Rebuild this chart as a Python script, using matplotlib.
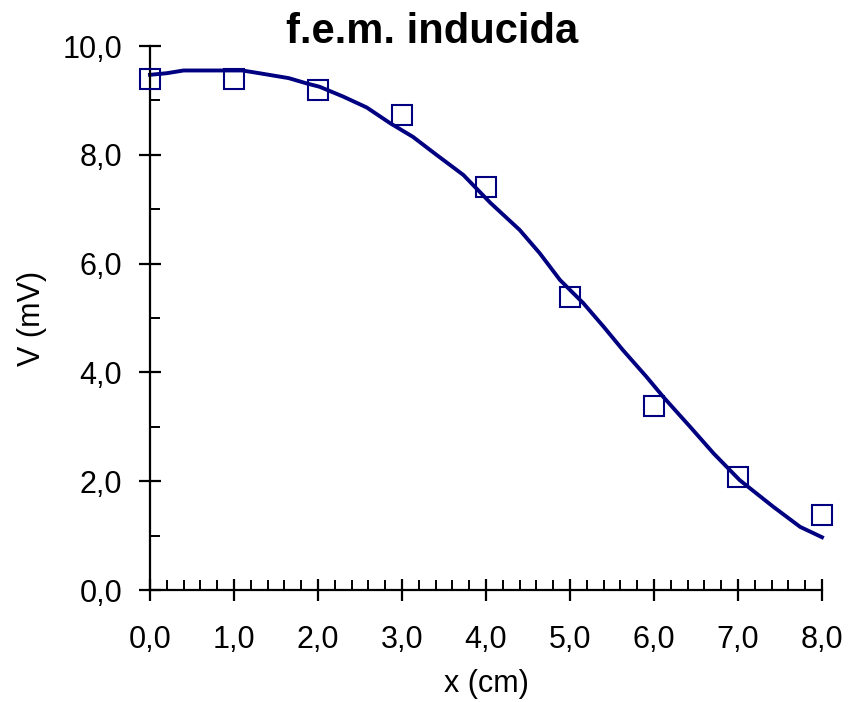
import matplotlib

matplotlib.use("Agg")
import matplotlib.pyplot as plt  # noqa: E402
from matplotlib.ticker import MultipleLocator, FuncFormatter  # noqa: E402

plt.rcParams["font.family"] = ["Liberation Sans", "DejaVu Sans"]

# measured points
x_data = [0, 1, 2, 3, 4, 5, 6, 7, 8]
v_data = [9.40, 9.40, 9.20, 8.73, 7.40, 5.38, 3.39, 2.07, 1.38]

# fitted curve
x_fit = [0.0, 0.2, 0.4, 0.8, 1.1, 1.3, 1.65, 1.87, 2.02, 2.3, 2.58, 2.86,
         3.13, 3.41, 3.73, 4.05, 4.4, 4.64, 4.88, 5.16, 5.4, 5.63, 5.91,
         6.11, 6.43, 6.71, 7.02, 7.42, 7.74, 8.0]
v_fit = [9.47, 9.50, 9.55, 9.55, 9.55, 9.50, 9.41, 9.31, 9.25, 9.07, 8.87, 8.58,
         8.33, 8.00, 7.63, 7.12, 6.62, 6.19, 5.70, 5.27, 4.84, 4.41, 3.92,
         3.55, 3.00, 2.51, 2.02, 1.53, 1.16, 0.97]

navy = "#000080"

fig = plt.figure(figsize=(8.55, 7.02), dpi=100)
ax = fig.add_axes([150 / 855, 112 / 702, 672 / 855, 544 / 702])

ax.plot(x_fit, v_fit, color=navy, lw=2.8, clip_on=False, zorder=2)
ax.plot(x_data, v_data, ls="none", marker="s", ms=14, mfc="none",
        mec=navy, mew=1.5, clip_on=False, zorder=3)

ax.set_xlim(0, 8)
ax.set_ylim(0, 10)
ax.xaxis.set_major_locator(MultipleLocator(1))
ax.xaxis.set_minor_locator(MultipleLocator(0.2))
ax.yaxis.set_major_locator(MultipleLocator(2))
ax.yaxis.set_minor_locator(MultipleLocator(1))

fmt = FuncFormatter(lambda v, p: f"{v:.1f}".replace(".", ","))
ax.xaxis.set_major_formatter(fmt)
ax.yaxis.set_major_formatter(fmt)

for s in ("top", "right"):
    ax.spines[s].set_visible(False)
for s in ("left", "bottom"):
    ax.spines[s].set_linewidth(1.6)

ax.tick_params(which="major", direction="inout", length=16, width=1.6,
               labelsize=22)
ax.tick_params(which="minor", direction="in", length=7, width=1.4)
ax.tick_params(axis="y", which="major", pad=12)
ax.tick_params(axis="x", which="major", pad=17)

fig.text(486 / 855, 10 / 702, "x (cm)", ha="center", va="baseline",
         fontsize=22)
fig.text(32 / 855, 384 / 702, "V (mV)", ha="center", va="center",
         rotation=90, fontsize=22)
fig.text(432 / 855, 659 / 702, "f.e.m. inducida", ha="center",
         va="baseline", fontsize=30, fontweight="bold")

fig.savefig("out.png", dpi=100)
